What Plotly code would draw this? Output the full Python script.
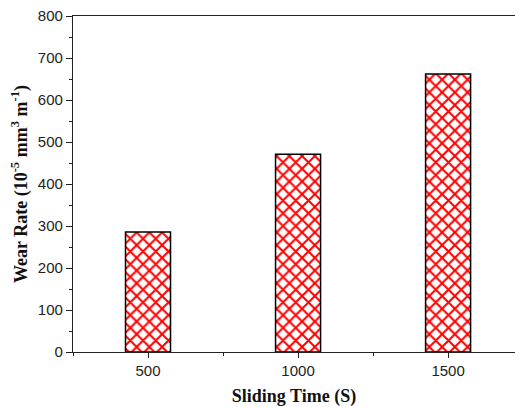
import plotly.graph_objects as go

sliding_time = [500, 1000, 1500]
wear_rate = [286, 471, 662]
x_tick_vals = [500, 1000, 1500]
y_tick_vals = [0, 100, 200, 300, 400, 500, 600, 700, 800]

fig = go.Figure()
fig.add_trace(go.Bar(
    x=sliding_time,
    y=wear_rate,
    width=150,
    marker=dict(
        color="white",
        line=dict(color="black", width=1.5),
        pattern=dict(shape="x", fgcolor="#ff0000", bgcolor="white",
                     size=9, solidity=0.4, fillmode="replace"),
    ),
))

axis_font = dict(family="Liberation Sans, Arial, sans-serif", size=15, color="#222")
title_font = dict(family="Liberation Serif, Times New Roman, serif", size=18, color="#111")

fig.update_layout(
    width=515, height=407,
    margin=dict(l=73, r=0, t=16, b=55),
    plot_bgcolor="white", paper_bgcolor="white",
    showlegend=False,
    xaxis=dict(
        range=[250, 1723],
        tickvals=x_tick_vals,
        ticktext=[str(v) for v in x_tick_vals],
        ticks="outside", ticklen=5, tickwidth=1.3, tickcolor="#222",
        minor=dict(dtick=250, tick0=250, ticks="outside", ticklen=3, tickwidth=1.2, tickcolor="#222"),
        showline=True, linecolor="#222", linewidth=1.3, mirror=True,
        showgrid=False, zeroline=False,
        tickfont=axis_font,
        title=dict(text="<b>Sliding Time (S)</b>", font=title_font, standoff=11),
    ),
    yaxis=dict(
        range=[0, 800],
        tickvals=y_tick_vals,
        ticks="outside", ticklen=6, tickwidth=1.3, tickcolor="#222",
        minor=dict(dtick=50, tick0=0, ticks="outside", ticklen=3, tickwidth=1.2, tickcolor="#222"),
        showline=True, linecolor="#222", linewidth=1.3, mirror=False,
        showgrid=False, zeroline=False,
        tickfont=axis_font,
        title=dict(text="<b>Wear Rate (10<sup>-5</sup> mm<sup>3</sup> m<sup>-1</sup>)</b>",
                   font=title_font, standoff=5),
    ),
)

fig.write_html("out.html")
